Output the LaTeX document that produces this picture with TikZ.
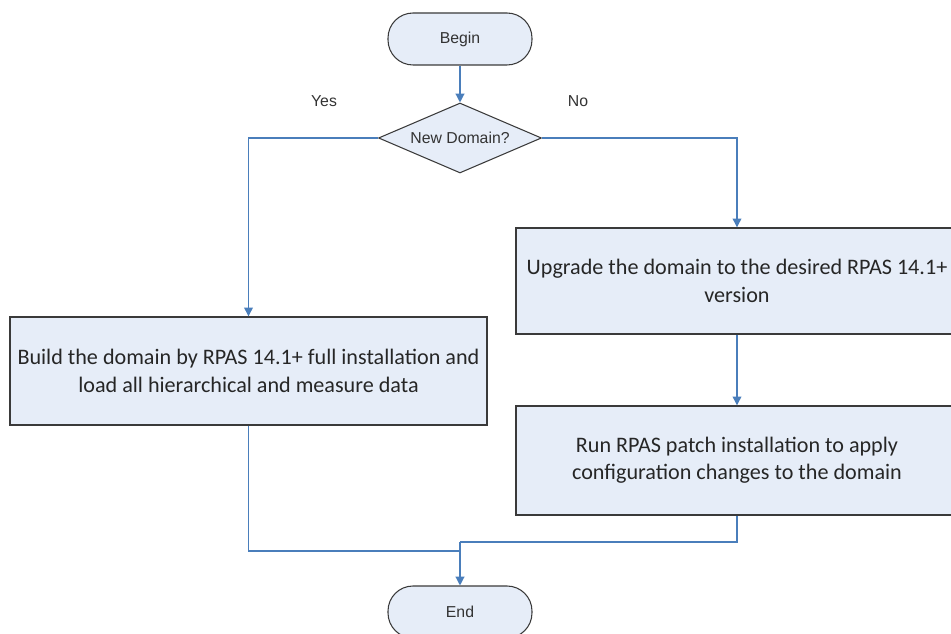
\documentclass[tikz,border=0pt]{standalone}
\usepackage{fontspec}
\setmainfont{Carlito}
\newfontfamily\arialfont{Liberation Sans}
\usetikzlibrary{shapes.geometric,arrows.meta}
\definecolor{boxfill}{HTML}{E6EDF8}
\definecolor{boxdraw}{HTML}{3A3A3A}
\definecolor{flowblue}{HTML}{4A7EBB}
\begin{document}
\begin{tikzpicture}[
  x=0.02cm,y=-0.02cm,
  terminal/.style={draw=boxdraw,fill=boxfill,line width=0.6pt,rounded corners=0.5cm,
    minimum width=2.88cm,minimum height=1.04cm,font=\arialfont\fontsize{9}{11}\selectfont,text=black!80},
  decision/.style={draw=boxdraw,fill=boxfill,line width=0.6pt,diamond,aspect=2.33,inner sep=0pt,
    minimum width=3.26cm,minimum height=1.4cm,font=\arialfont\fontsize{9}{11}\selectfont,text=black!80},
  process/.style={draw=boxdraw,fill=boxfill,line width=0.8pt,align=center,
    font=\fontsize{12.6}{15.5}\selectfont,text=black!85},
  flow/.style={draw=flowblue,line width=0.7pt,-{Triangle[length=5pt,width=5pt]}},
  branch/.style={font=\arialfont\fontsize{9}{11}\selectfont,text=black!80},
]
\useasboundingbox (0,0) rectangle (951,634);
\node[terminal] (begin) at (460,39) {Begin};
\node[decision] (newdom) at (460,138) {New Domain?};
\node[branch] (yes) at (324,101) {Yes};
\node[branch] (no) at (578,101) {No};
\node[process,minimum width=9.54cm,minimum height=2.16cm] (build) at (248.5,371)
  {Build the domain by RPAS 14.1+ full installation and\\load all hierarchical and measure data};
\node[process,minimum width=8.84cm,minimum height=2.12cm] (upgrade) at (737,281)
  {Upgrade the domain to the desired RPAS 14.1+\\version};
\node[process,minimum width=8.84cm,minimum height=2.18cm] (patch) at (737,460.5)
  {Run RPAS patch installation to apply\\configuration changes to the domain};
\node[terminal] (end) at (460,612) {End};
\coordinate (join) at (460,542);
% connectors
\draw[flow] (begin) -- (newdom);
\draw[flow] (newdom.west) -| (build.north);
\draw[flow] (newdom.east) -| (upgrade.north);
\draw[flow] (upgrade) -- (patch);
\draw[draw=flowblue,line width=0.7pt] (build.south) |- (460,551);
\draw[draw=flowblue,line width=0.7pt] (patch.south) |- (join);
\draw[flow] (join) -- (end);
\end{tikzpicture}
\end{document}
